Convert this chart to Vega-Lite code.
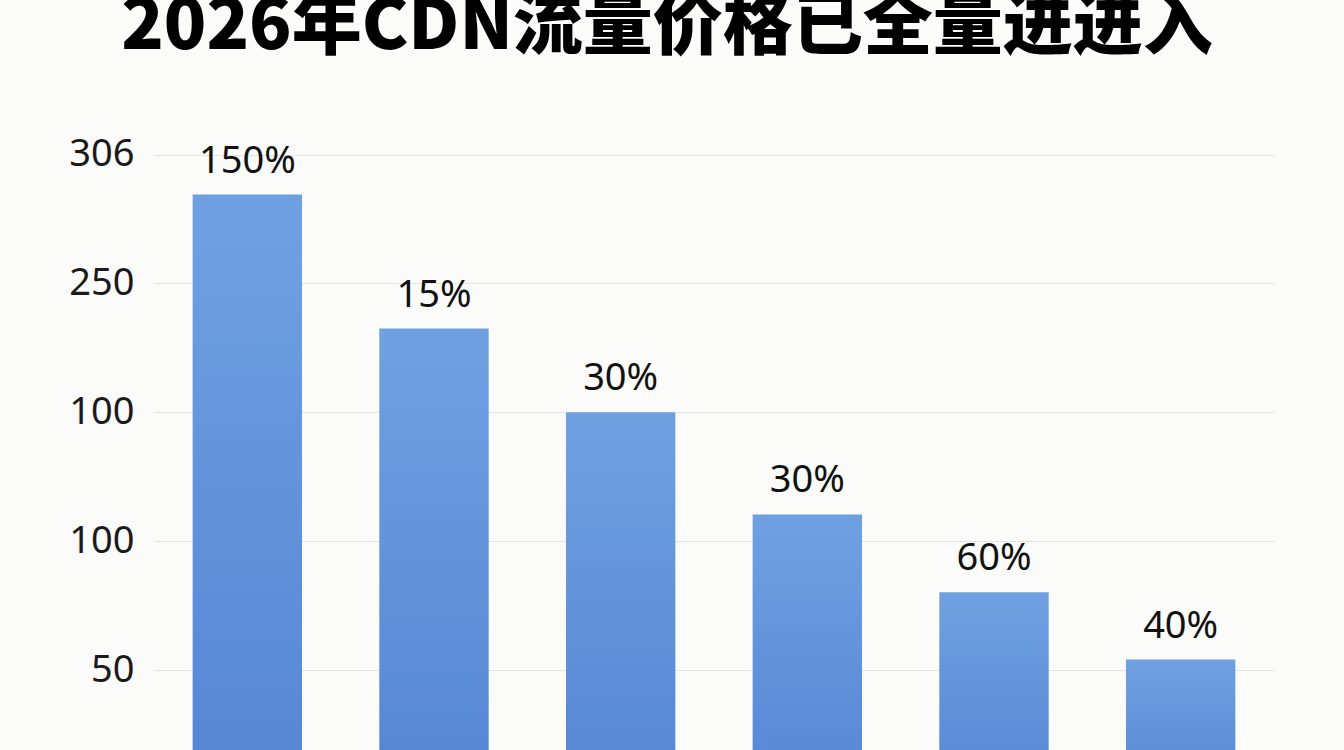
{
  "$schema": "https://vega.github.io/schema/vega-lite/v6.json",
  "autosize": "none",
  "width": 1120,
  "height": 647,
  "padding": {"left": 154, "top": 103, "right": 70, "bottom": 0},
  "background": "#fbfbfa",
  "title": {
    "text": "2026年CDN流量价格已全量进进入",
    "font": "Noto Sans CJK SC",
    "fontWeight": 900,
    "fontSize": 70,
    "color": "#000000",
    "anchor": "middle",
    "offset": 39,
    "dx": -47
  },
  "config": {
    "view": {"stroke": null},
    "font": "Noto Sans"
  },
  "data": {
    "values": [
      {"item": "A", "value": 234.5, "label": "150%"},
      {"item": "B", "value": 182.5, "label": "15%"},
      {"item": "C", "value": 150, "label": "30%"},
      {"item": "D", "value": 110.4, "label": "30%"},
      {"item": "E", "value": 80.2, "label": "60%"},
      {"item": "F", "value": 54.1, "label": "40%"}
    ]
  },
  "encoding": {
    "x": {
      "field": "item",
      "type": "nominal",
      "sort": null,
      "axis": null,
      "scale": {"paddingInner": 0.414, "paddingOuter": 0.207}
    },
    "y": {
      "field": "value",
      "type": "quantitative",
      "scale": {"domain": [19, 270], "nice": false, "zero": false},
      "axis": {
        "title": null,
        "values": [50, 100, 150, 200, 250],
        "labelExpr": "datum.value == 250 ? '306' : datum.value == 200 ? '250' : datum.value == 50 ? '50' : '100'",
        "labelFont": "Noto Sans",
        "labelFontSize": 38,
        "labelColor": "#1a1a1a",
        "labelPadding": 20,
        "ticks": false,
        "domain": false,
        "grid": true,
        "gridColor": "#e4e4e4",
        "gridWidth": 1.2
      }
    }
  },
  "layer": [
    {
      "mark": {
        "type": "bar",
        "color": {
          "gradient": "linear",
          "x1": 0, "y1": 0, "x2": 0, "y2": 1,
          "stops": [
            {"offset": 0, "color": "#6fa1e2"},
            {"offset": 1, "color": "#5585d2"}
          ]
        }
      }
    },
    {
      "mark": {
        "type": "text",
        "baseline": "alphabetic",
        "dy": -22,
        "fontSize": 38,
        "font": "Noto Sans",
        "color": "#111111"
      },
      "encoding": {
        "text": {"field": "label"}
      }
    }
  ]
}
